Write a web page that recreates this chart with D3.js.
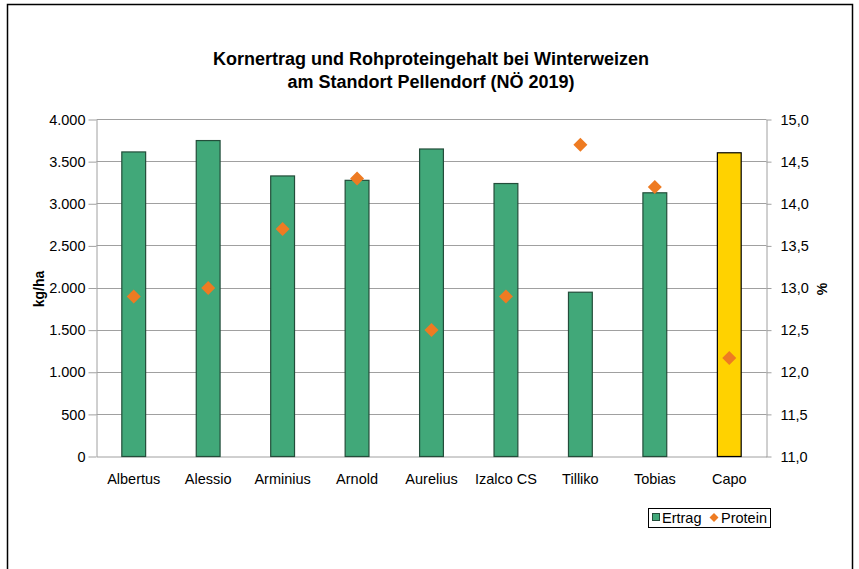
<!DOCTYPE html>
<html>
<head>
<meta charset="utf-8">
<script src="https://cdn.jsdelivr.net/npm/d3@7"></script>
<style>
  body { margin: 0; background: #fff; }
  text { font-family: "Liberation Sans", Arial, sans-serif; fill: #000; }
</style>
</head>
<body>
<svg id="chart"></svg>
<script>
var sorten = ["Albertus", "Alessio", "Arminius", "Arnold", "Aurelius", "Izalco CS", "Tilliko", "Tobias", "Capo"];
var ertrag = [3615, 3750, 3330, 3278, 3650, 3240, 1950, 3130, 3605];
var protein = [12.9, 13.0, 13.7, 14.3, 12.5, 12.9, 14.7, 14.2, 12.17];
var ertragTicks = [0, 500, 1000, 1500, 2000, 2500, 3000, 3500, 4000];
var proteinTicks = [11.0, 11.5, 12.0, 12.5, 13.0, 13.5, 14.0, 14.5, 15.0];

var width = 859, height = 569;
var svg = d3.select("#chart").attr("width", width).attr("height", height);

// outer chart frame
svg.append("rect")
  .attr("x", 7.5).attr("y", 4.5)
  .attr("width", 845).attr("height", 580)
  .attr("fill", "#fff").attr("stroke", "#000").attr("stroke-width", 1.5);

var plotL = 96.5, plotR = 766.5, plotT = 119.5, plotB = 456.5;

var x = d3.scaleBand().domain(sorten).range([plotL, plotR]).paddingInner(0.68).paddingOuter(0.34);
var y = d3.scaleLinear().domain([0, 4000]).range([plotB, plotT]);
var y2 = d3.scaleLinear().domain([11, 15]).range([plotB, plotT]);

var de = d3.formatLocale({decimal: ",", thousands: ".", grouping: [3], currency: ["", "€"]});

// gridlines
svg.append("g").selectAll("line")
  .data(ertragTicks.slice(1))
  .enter().append("line")
  .attr("x1", plotL).attr("x2", plotR)
  .attr("y1", function(d) { return Math.round(y(d) - 0.5) + 0.5; })
  .attr("y2", function(d) { return Math.round(y(d) - 0.5) + 0.5; })
  .attr("stroke", "#a0a0a0").attr("stroke-width", 1);

var yAxis = d3.axisLeft(y).tickValues(ertragTicks).tickFormat(de.format(",d")).tickSize(8).tickSizeOuter(0).tickPadding(3);
var gy = svg.append("g").attr("transform", "translate(" + plotL + ",0)").call(yAxis);

var y2Axis = d3.axisRight(y2).tickValues(proteinTicks).tickFormat(de.format(".1f")).tickSize(5).tickSizeOuter(0).tickPadding(9);
var gy2 = svg.append("g").attr("transform", "translate(" + plotR + ",0)").call(y2Axis);

var xAxis = d3.axisBottom(x).tickSize(0).tickPadding(17);
var gx = svg.append("g").attr("transform", "translate(0," + plotB + ")").call(xAxis);

[gy, gy2, gx].forEach(function(g) {
  g.selectAll("path, line").attr("stroke", "#a0a0a0");
  g.selectAll("text").style("font-size", "14.5px").style("font-family", "Liberation Sans, Arial, sans-serif");
});

// bars
svg.append("g").selectAll("rect")
  .data(sorten)
  .enter().append("rect")
  .attr("x", function(d) { return x(d); })
  .attr("y", function(d, i) { return y(ertrag[i]); })
  .attr("width", x.bandwidth())
  .attr("height", function(d, i) { return plotB - y(ertrag[i]); })
  .attr("fill", function(d) { return d === "Capo" ? "#ffd200" : "#41a879"; })
  .attr("stroke", function(d) { return d === "Capo" ? "#000" : "#234d3a"; })
  .attr("stroke-width", 1.2);

// protein diamonds
var diamond = d3.symbol().type(d3.symbolSquare).size(98);
svg.append("g").selectAll("path")
  .data(sorten)
  .enter().append("path")
  .attr("d", diamond)
  .attr("transform", function(d, i) {
    return "translate(" + (x(d) + x.bandwidth() / 2) + "," + y2(protein[i]) + ") rotate(45)";
  })
  .attr("fill", "#ee7b22");

// title
svg.append("text").attr("x", 431).attr("y", 64.5).attr("text-anchor", "middle")
  .style("font-size", "18px").style("font-weight", "bold")
  .text("Kornertrag und Rohproteingehalt bei Winterweizen");
svg.append("text").attr("x", 431).attr("y", 87.5).attr("text-anchor", "middle")
  .style("font-size", "18px").style("font-weight", "bold")
  .text("am Standort Pellendorf (NÖ 2019)");

// axis titles
svg.append("text").attr("transform", "translate(44,289) rotate(-90)").attr("text-anchor", "middle")
  .style("font-size", "14px").style("font-weight", "bold").text("kg/ha");
svg.append("text").attr("transform", "translate(827,289) rotate(-90)").attr("text-anchor", "middle")
  .style("font-size", "14px").style("font-weight", "bold").text("%");

// legend
var lg = svg.append("g").attr("transform", "translate(648.5,508.5)");
lg.append("rect").attr("width", 122).attr("height", 19)
  .attr("fill", "#fff").attr("stroke", "#000").attr("stroke-width", 1);
lg.append("rect").attr("x", 4).attr("y", 5).attr("width", 7).attr("height", 7)
  .attr("fill", "#41a879").attr("stroke", "#234d3a").attr("stroke-width", 1);
lg.append("text").attr("x", 13.5).attr("y", 14.5).style("font-size", "14.5px").text("Ertrag");
lg.append("path").attr("d", d3.symbol().type(d3.symbolSquare).size(40))
  .attr("transform", "translate(65.5,9) rotate(45)").attr("fill", "#ee7b22");
lg.append("text").attr("x", 72.5).attr("y", 14.5).style("font-size", "14.5px").text("Protein");
</script>
</body>
</html>
